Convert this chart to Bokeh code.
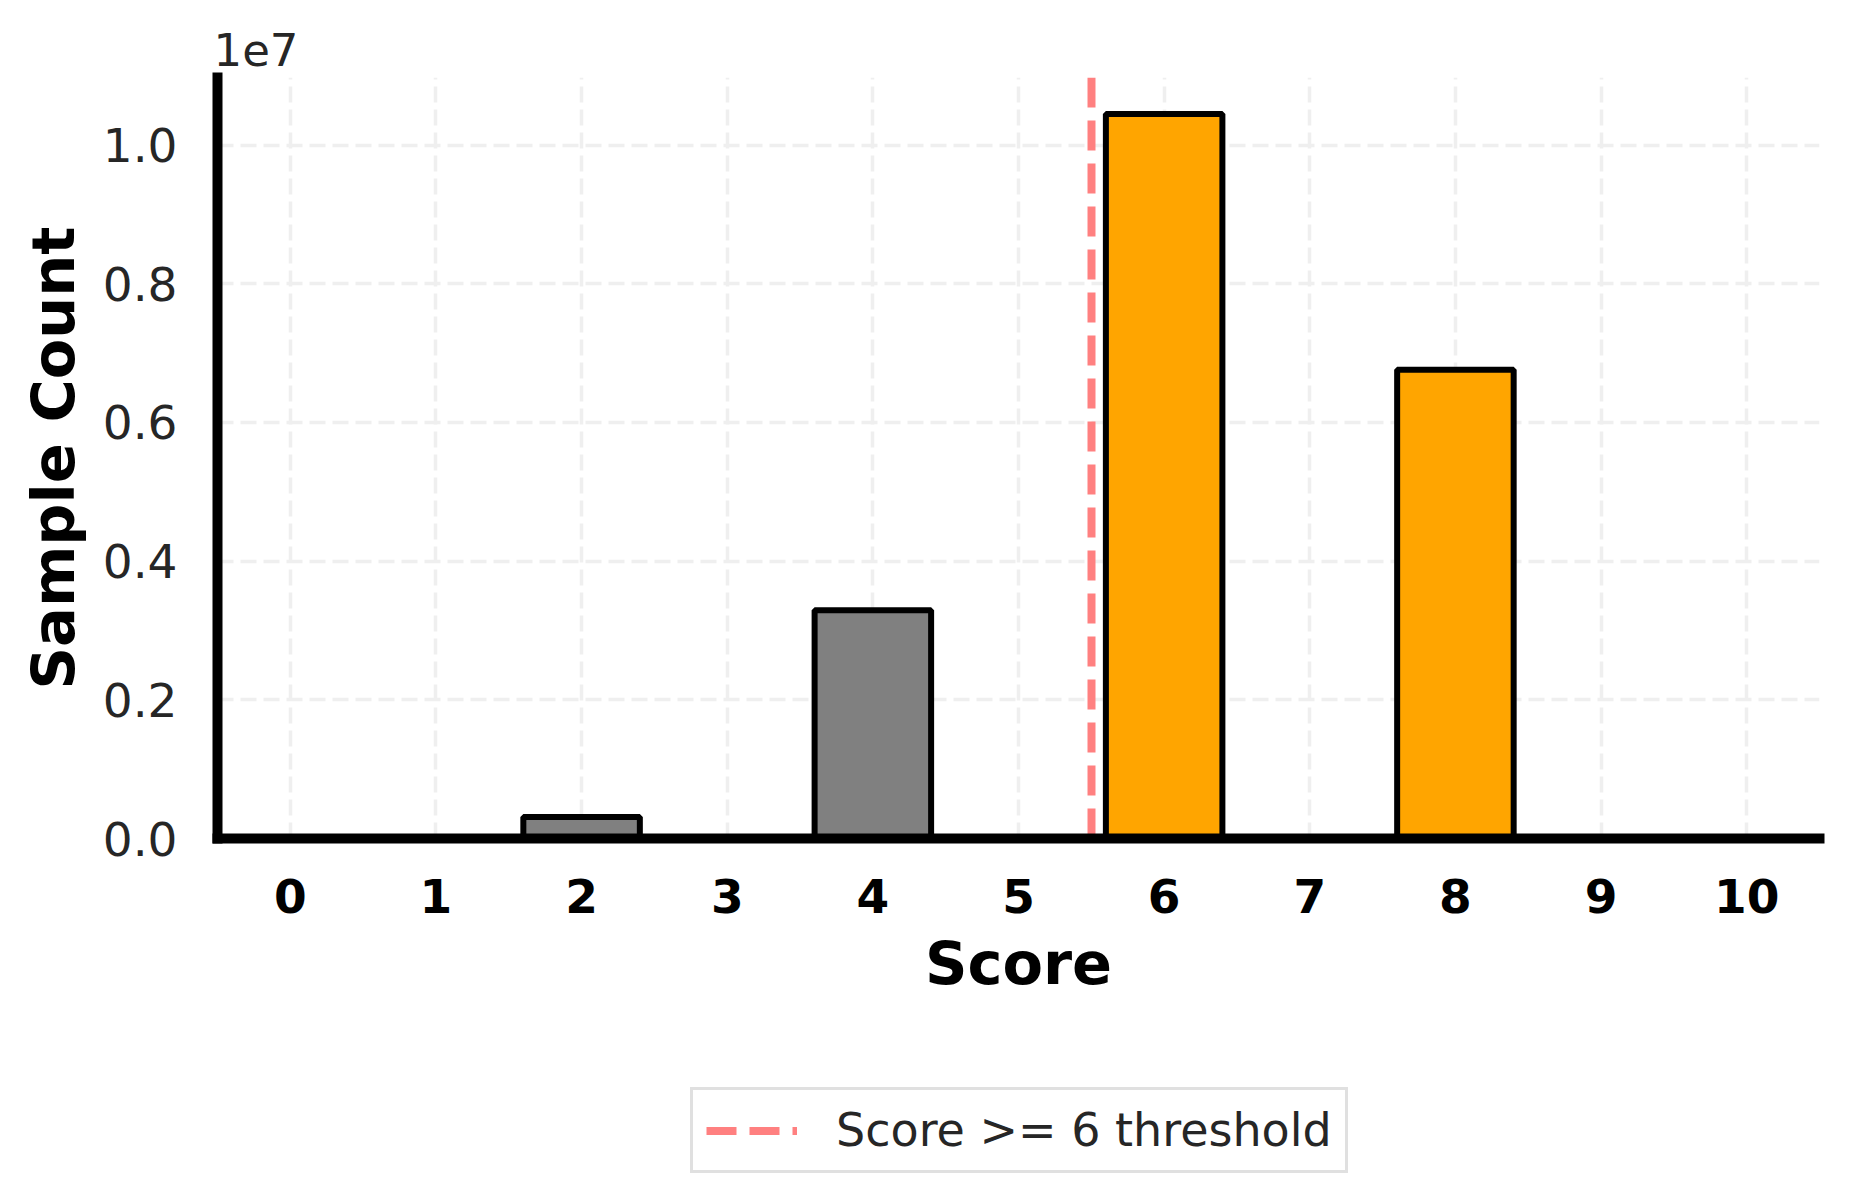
from bokeh.plotting import figure
from bokeh.layouts import column
from bokeh.models import Range1d, FixedTicker, Legend, LegendItem, Title
from bokeh.embed import file_html
from bokeh.resources import INLINE

# ---- data ----
scores = [0, 1, 2, 3, 4, 5, 6, 7, 8, 9, 10]
sample_counts = [0, 0, 310000, 0, 3290000, 0, 10450000, 0, 6760000, 0, 0]
threshold = 6
threshold_line_x = 5.5
y_tick_values = [0, 2000000, 4000000, 6000000, 8000000, 10000000]
y_tick_labels = ["0.0", "0.2", "0.4", "0.6", "0.8", "1.0"]
y_offset_text = "1e7"
legend_text = "Score >= 6 threshold"
x_title = "Score"
y_title = "Sample Count"

FONT = "DejaVu Sans"
W = 1841
H1 = 1060
H2 = 133

p = figure(width=W, height=H1, output_backend="svg", toolbar_location=None,
           x_range=Range1d(-0.5, 10.5), y_range=Range1d(0, 1.0975e7),
           min_border_left=217, min_border_right=22, min_border_top=77,
           min_border_bottom=H1 - 838, x_axis_label=x_title, y_axis_label=y_title)
p.outline_line_color = None
p.background_fill_color = "white"
p.border_fill_color = "white"

# "1e7" offset text shown above the y axis
p.title = Title(text=y_offset_text, align="left", text_font=FONT,
                text_font_size="45px", text_font_style="normal",
                text_color="#262626", standoff=24, offset=-4)

bar_colors = ["#FFA500" if s >= threshold else "#808080" for s in scores]
p.vbar(x=scores, top=sample_counts, width=0.8, fill_color=bar_colors,
       line_color="black", line_width=6)
line_style = dict(line_color="#FF8080", line_width=8, line_dash="30 13")
p.vspan(x=[threshold_line_x], **line_style)

# axes
xax = p.xaxis[0]
yax = p.yaxis[0]
xax.ticker = FixedTicker(ticks=scores)
yax.ticker = FixedTicker(ticks=y_tick_values)
yax.major_label_overrides = {v: l for v, l in zip(y_tick_values, y_tick_labels)}
p.xgrid.ticker = FixedTicker(ticks=scores)
p.ygrid.ticker = FixedTicker(ticks=y_tick_values)

for ax in (xax, yax):
    ax.axis_line_width = 10
    ax.axis_line_color = "black"
    ax.axis_line_cap = "square"
    ax.major_tick_in = 0
    ax.major_tick_out = 0
    ax.minor_tick_in = 0
    ax.minor_tick_out = 0
    ax.major_tick_line_color = None
    ax.minor_tick_line_color = None
    ax.axis_label_text_font = FONT
    ax.axis_label_text_font_style = "bold"
    ax.axis_label_text_font_size = "59px"
    ax.axis_label_text_color = "black"
    ax.major_label_text_font = FONT
    ax.major_label_text_font_size = "47px"

xax.major_label_text_font_style = "bold"
xax.major_label_text_color = "black"
xax.major_label_standoff = 40
xax.axis_label_standoff = 13
yax.major_label_text_color = "#262626"
yax.major_label_standoff = 40
yax.axis_label_standoff = 12

p.grid.grid_line_color = "#efefef"
p.grid.grid_line_width = 3.5
p.grid.grid_line_dash = "16 7"

# legend strip below the chart (its frame is aligned with the chart's frame)
p2 = figure(width=W, height=H2, output_backend="svg", toolbar_location=None,
            x_range=Range1d(0, 1), y_range=Range1d(0, 1),
            x_axis_location=None, y_axis_location=None,
            min_border_left=0, min_border_right=0, min_border_top=0,
            min_border_bottom=0)
p2.outline_line_color = None
p2.grid.visible = False
p2.background_fill_color = "white"
p2.border_fill_color = "white"
# legend proxy placed outside the visible range of the strip
proxy = p2.vspan(x=[threshold_line_x], **line_style)

legend = Legend(items=[LegendItem(label=legend_text, renderers=[proxy])],
                location=(473, 20), label_text_font=FONT,
                label_text_font_size="46px", label_text_color="#262626",
                glyph_width=91, glyph_height=47, label_height=47,
                label_standoff=39, padding=13, margin=0, spacing=0,
                border_line_color="#e0e0e0", border_line_width=3,
                border_line_alpha=1, background_fill_color="white",
                background_fill_alpha=1)
p2.add_layout(legend, "center")

layout = column(p, p2, spacing=0)
open("out.html", "w").write(file_html(layout, INLINE))
